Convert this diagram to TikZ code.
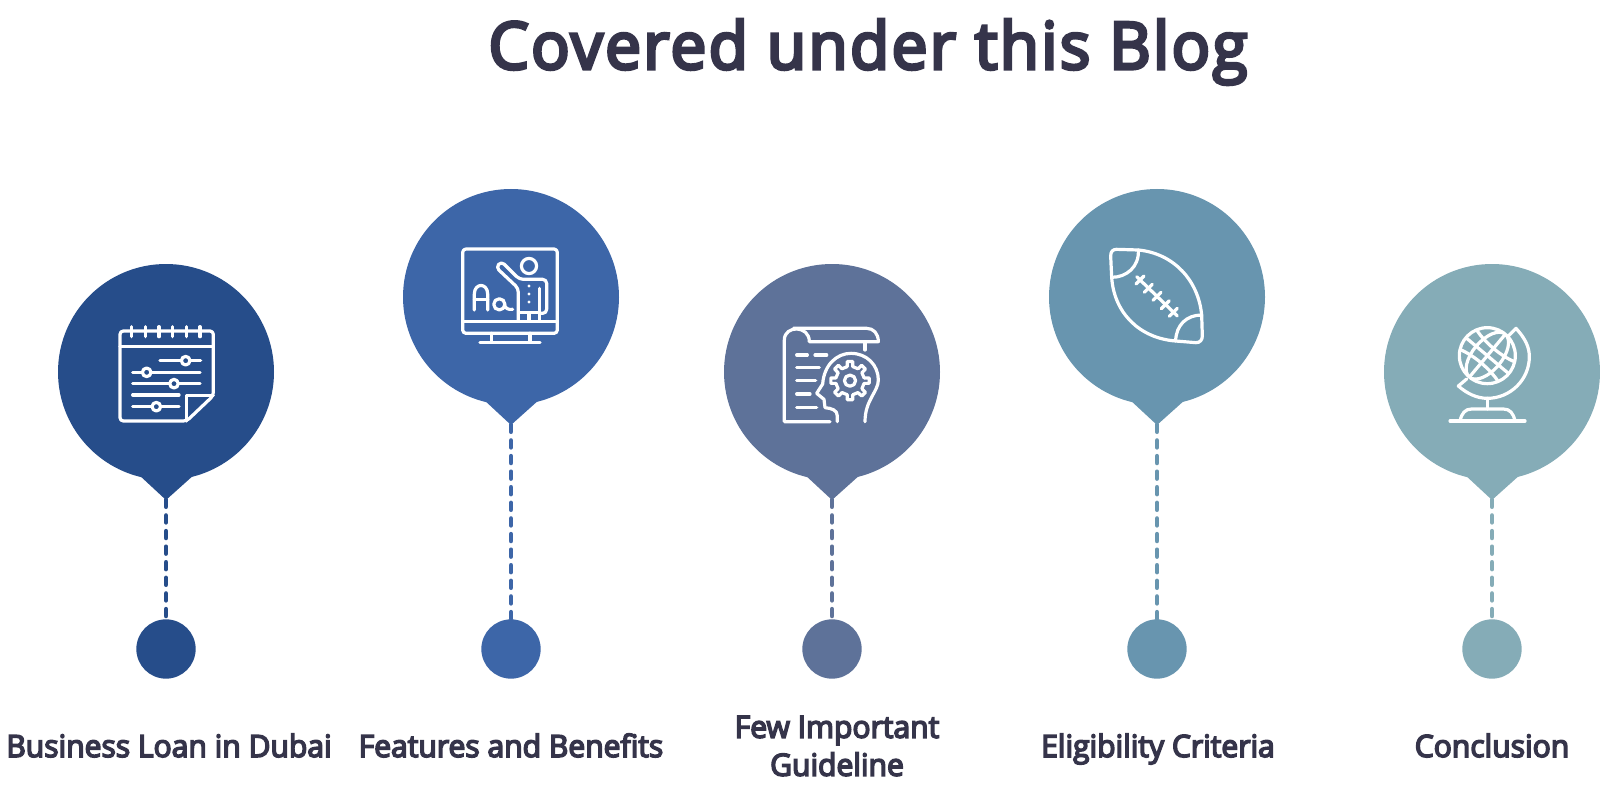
\documentclass[tikz,border=0pt]{standalone}
\usepackage{fontspec}
\setmainfont{Open Sans}[FakeBold=5, FakeStretch=0.98]
\usepackage{xcolor}
\usetikzlibrary{positioning}
\definecolor{inkc}{HTML}{35344A}
\definecolor{pina}{HTML}{264D8A}
\definecolor{pinb}{HTML}{3D66A8}
\definecolor{pinc}{HTML}{5E7299}
\definecolor{pind}{HTML}{6895AF}
\definecolor{pine}{HTML}{85ACB7}
\tikzset{
  bubble/.style={circle, minimum size=162pt, inner sep=0pt, fill=#1},
  pindot/.style={circle, minimum size=44.5pt, inner sep=0pt, fill=#1},
  stem/.style={draw=#1, line width=3.6pt, line cap=round, dash pattern=on 5pt off 6.7pt},
  label/.style={font=\fontsize{23}{28.5}\selectfont, text=inkc, align=center},
  icon/.style={draw=white, line width=2.4pt, line cap=round, line join=round},
  iconat/.style={shift={(#1)}, x=0.25pt, y=-0.25pt}
}
% one pin: bubble, point below it, stem and dot
\newcommand{\pin}[4]{
  \node (bubble#1) [bubble=#4] at (#2,#3) {};
  \coordinate (tip#1) at (#2,#3+128);
  \coordinate (left#1) at (#2-28,#3+102);
  \coordinate (right#1) at (#2+29,#3+102);
  \fill[#4] (left#1) -- (tip#1) -- (right#1) -- cycle;
  \node (dot#1) [pindot=#4] at (#2,649) {};
  \draw[stem=#4] (tip#1) -- (dot#1);
}
\begin{document}
\begin{tikzpicture}[x=0.75pt, y=-0.75pt]
  \useasboundingbox (0,0) rectangle (1600,788);

  \node (title) [anchor=base, font=\fontsize{49}{52}\selectfont, text=inkc] at (868,69) {\addfontfeature{LetterSpace=3.5}Covered under this Blog};

  \pin{a}{166}{372}{pina}
  \pin{b}{511}{297}{pinb}
  \pin{c}{832}{372}{pinc}
  \pin{d}{1157}{297}{pind}
  \pin{e}{1492}{372}{pine}

  \node (texta) [label, anchor=base] at (169,757) {Business Loan in Dubai};
  \node (textb) [label, anchor=base] at (511,757) {Features and Benefits};
  \node (textc) [label] at (837,746) {Few Important\\Guideline};
  \node (textd) [label, anchor=base] at (1158,757) {Eligibility Criteria};
  \node (texte) [label, anchor=base] at (1492,757) {Conclusion};

  % calendar
  \begin{scope}[iconat={40,250}, icon]
    \draw[rounded corners=2.5pt] (440,513) -- (240,513) -- (240,243) -- (520,243) -- (520,437) -- cycle;
    \draw (440,513) -- (440,437) -- (520,437);
    \draw (240,290) -- (520,290);
    \foreach \x in {275,316,357,398,439,480}
      \draw (\x,230) -- (\x,260);
    \draw (360,332) -- (482,332);
    \draw (278,367) -- (480,367);
    \draw (278,401) -- (480,401);
    \draw (278,435) -- (417,435);
    \draw (278,470) -- (417,470);
    \foreach \x/\y in {437/332,320/367,402/401,349/470}
      \draw[fill=pina] (\x,\y) circle (3.2pt);
  \end{scope}

  % screen with teacher
  \begin{scope}[iconat={390,180}, icon]
    \draw[rounded corners=2.5pt] (218,207) rectangle (502,460);
    \draw (218,425) -- (502,425);
    \draw (305,460) -- (305,487) (420,460) -- (420,487);
    \draw (270,487) -- (450,487);
    \draw (417,258) circle (5.7pt);
    \draw[rounded corners=3pt] (385,422) -- (385,325) -- (318,262) -- (334,244) -- (388,298) -- (470,298) -- (470,400) -- (448,400);
    \draw (448,325) -- (448,422);
    \draw (390,397) -- (448,397);
    \draw (417,400) -- (417,422);
    \foreach \y in {318,342,366}
      \fill[white] (417,\y) circle (1.3pt);
    \draw (253,390) -- (253,342) .. controls (253,308) and (293,308) .. (293,342) -- (293,390);
    \draw (253,358) -- (293,358);
    \draw (328,373) circle (4.2pt);
    \draw (343,373) .. controls (345,385) and (355,390) .. (368,388);
  \end{scope}

  % scroll and head with gear
  \begin{scope}[iconat={750,310}, icon]
    \draw (240,335) -- (103,335) -- (103,90) .. controls (103,45) and (178,45) .. (178,95) -- (385,95) .. controls (385,70) and (370,55) .. (350,55) -- (130,55);
    \draw (345,95) -- (345,120);
    \draw (140,135) -- (172,135) (195,135) -- (230,135);
    \draw (140,173) -- (208,173);
    \draw (140,212) -- (197,212);
    \draw (140,252) -- (180,252);
    \draw (140,292) -- (200,292);
    \draw (262,335) -- (262,318) .. controls (262,300) and (245,295) .. (225,293) -- (222,268) -- (200,250) -- (218,222) .. controls (222,165) and (260,130) .. (303,130) .. controls (350,130) and (385,165) .. (385,210) .. controls (385,245) and (345,270) .. (345,335);
    \draw (300,212) circle (4.2pt);
    \foreach \a in {0,45,...,315}
      \draw ({300+43*cos(\a-11)},{212+43*sin(\a-11)}) -- ({300+58*cos(\a-8)},{212+58*sin(\a-8)}) -- ({300+58*cos(\a+8)},{212+58*sin(\a+8)}) -- ({300+43*cos(\a+11)},{212+43*sin(\a+11)}) -- ({300+43*cos(\a+34)},{212+43*sin(\a+34)});
  \end{scope}

  % ball
  \begin{scope}[iconat={1090,230}, icon]
    \draw (145,60) -- (80,58) .. controls (68,58) and (62,65) .. (62,78) -- (65,142) .. controls (72,250) and (150,325) .. (257,333) -- (318,338) .. controls (330,338) and (337,330) .. (337,318) -- (335,255) .. controls (325,150) and (250,70) .. (145,60);
    \draw (145,60) .. controls (148,110) and (110,142) .. (65,142);
    \draw (335,255) .. controls (290,255) and (258,285) .. (257,333);
    \draw (140,140) -- (262,258);
    \foreach \x/\y in {150/150,175/175,201/199,226/224,250/247}
      \draw (\x-12,\y+12) -- (\x+12,\y-12);
  \end{scope}

  % globe
  \begin{scope}[iconat={1430,310}, icon]
    \draw (172,137) circle (21pt);
    \begin{scope}
      \clip (172,137) circle (21pt);
      \begin{scope}[shift={(172,137)}, rotate=-40]
        \draw (0,0) ellipse (11pt and 21pt);
        \draw (-84,-42) .. controls (-40,-24) and (40,-24) .. (84,-42);
        \draw (-84,42) .. controls (-40,24) and (40,24) .. (84,42);
        \draw (-84,0) -- (84,0);
        \draw (0,-84) -- (0,84);
      \end{scope}
    \end{scope}
    \draw (235,78) -- (258,55) .. controls (285,85) and (298,110) .. (298,140) .. controls (298,210) and (240,265) .. (172,265) .. controls (140,265) and (110,250) .. (85,228) -- (110,207);
    \draw (172,265) -- (172,297);
    \draw (90,333) .. controls (95,310) and (105,297) .. (125,297) -- (220,297) .. controls (240,297) and (250,310) .. (255,333);
    \draw (60,333) -- (285,333);
  \end{scope}
\end{tikzpicture}
\end{document}
